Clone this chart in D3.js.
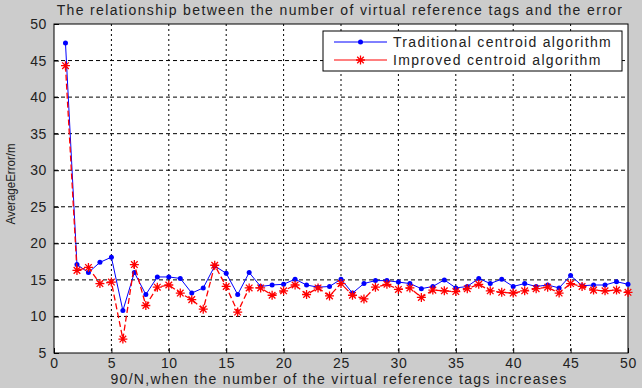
<!DOCTYPE html>
<html lang="en">
<head>
    <meta charset="UTF-8">
    <title>Virtual reference tags vs error</title>
    <script src="https://d3js.org/d3.v7.min.js"></script>
    <style>
        body { margin: 0; background: #cccccc; }
        text { font-family: Arial, "Liberation Sans", sans-serif; fill: #222; }
    </style>
</head>
<body>
    <svg width="642" height="388"></svg>
    <script type="text/javascript">
        // x values: 90/N
        var xs = d3.range(1, 51);

        var traditional = [47.4, 17.1, 16.0, 17.4, 18.1, 10.8, 16.0, 13.0, 15.4, 15.4,
                           15.2, 13.2, 13.9, 16.9, 15.9, 13.0, 16.0, 14.1, 14.3, 14.4,
                           15.1, 14.3, 14.0, 14.1, 15.1, 13.2, 14.5, 14.9, 14.9, 14.7,
                           14.5, 13.8, 14.1, 15.0, 13.9, 14.1, 15.2, 14.5, 15.1, 14.1,
                           14.5, 14.1, 14.3, 13.9, 15.6, 14.2, 14.3, 14.3, 14.75, 14.4];

        var improved = [44.3, 16.3, 16.7, 14.5, 14.7, 6.9, 17.1, 11.5, 14.0, 14.3,
                        13.2, 12.3, 11.0, 17.0, 14.1, 10.6, 13.9, 13.9, 12.9, 13.5,
                        14.3, 13.0, 13.9, 12.8, 14.5, 12.9, 12.4, 14.0, 14.4, 13.7,
                        13.9, 12.6, 13.6, 13.5, 13.4, 13.8, 14.4, 13.5, 13.3, 13.2,
                        13.5, 13.8, 14.0, 13.2, 14.5, 14.1, 13.6, 13.5, 13.6, 13.3];

        var xTicks = d3.range(0, 51, 5);
        var yTicks = d3.range(5, 51, 5);

        var margin = {top: 24, right: 14, bottom: 35, left: 54},
            width = 642 - margin.left - margin.right,
            height = 388 - margin.top - margin.bottom;

        var svg = d3.select("svg");

        var g = svg.append("g")
            .attr("transform", "translate(" + margin.left + "," + margin.top + ")");

        var x = d3.scaleLinear().domain([0, 50]).range([0, width]);
        var y = d3.scaleLinear().domain([5, 50]).range([height, 0]);

        // plot area
        g.append("rect")
            .attr("width", width)
            .attr("height", height)
            .attr("fill", "#fff");

        // grid
        g.selectAll(".vgrid")
            .data(xTicks.slice(1, -1))
            .enter().append("line")
            .attr("x1", d => x(d)).attr("x2", d => x(d))
            .attr("y1", 0).attr("y2", height)
            .attr("stroke", "#000")
            .attr("stroke-width", 1)
            .attr("stroke-dasharray", "2,3");

        g.selectAll(".hgrid")
            .data(yTicks.slice(1, -1))
            .enter().append("line")
            .attr("x1", 0).attr("x2", width)
            .attr("y1", d => y(d)).attr("y2", d => y(d))
            .attr("stroke", "#000")
            .attr("stroke-width", 1)
            .attr("stroke-dasharray", "4,3");

        // axes (inward ticks)
        var xAxis = g.append("g")
            .attr("transform", "translate(0," + height + ")")
            .call(d3.axisBottom(x).tickValues(xTicks).tickSizeInner(-5).tickSizeOuter(0).tickPadding(5));
        var yAxis = g.append("g")
            .call(d3.axisLeft(y).tickValues(yTicks).tickSizeInner(-5).tickSizeOuter(0).tickPadding(7));

        [xAxis, yAxis].forEach(function(a) {
            a.select(".domain").remove();
            a.selectAll("text").attr("font-size", "14px").attr("fill", "#222")
                .attr("letter-spacing", "0.6px")
                .attr("font-family", "Arial, 'Liberation Sans', sans-serif");
        });

        // box
        g.append("rect")
            .attr("width", width)
            .attr("height", height)
            .attr("fill", "none")
            .attr("stroke", "#000");

        // lines
        var line = d3.line()
            .x(function(d, i) { return x(xs[i]); })
            .y(function(d) { return y(d); });

        g.append("path")
            .datum(traditional)
            .attr("fill", "none")
            .attr("stroke", "#0000ff")
            .attr("stroke-width", 1)
            .attr("d", line);

        g.selectAll(".dot")
            .data(traditional)
            .enter().append("circle")
            .attr("cx", (d, i) => x(xs[i]))
            .attr("cy", d => y(d))
            .attr("r", 2.5)
            .attr("fill", "#0000ff");

        g.append("path")
            .datum(improved)
            .attr("fill", "none")
            .attr("stroke", "#ff0000")
            .attr("stroke-width", 1.3)
            .attr("stroke-dasharray", "6,3")
            .attr("d", line);

        var star = "M-4.5,0H4.5M0,-4.5V4.5M-3.3,-3.3L3.3,3.3M-3.3,3.3L3.3,-3.3";

        g.selectAll(".star")
            .data(improved)
            .enter().append("path")
            .attr("transform", (d, i) => "translate(" + x(xs[i]) + "," + y(d) + ")")
            .attr("d", star)
            .attr("stroke", "#ff0000")
            .attr("stroke-width", 1.3)
            .attr("fill", "none");

        // title
        svg.append("text")
            .attr("x", 340)
            .attr("y", 15)
            .attr("text-anchor", "middle")
            .attr("font-size", "14px")
            .attr("letter-spacing", "1.35px")
            .text("The relationship between the number of virtual reference tags and the error");

        // x label
        svg.append("text")
            .attr("x", 339)
            .attr("y", 384)
            .attr("text-anchor", "middle")
            .attr("font-size", "14px")
            .attr("letter-spacing", "1.3px")
            .text("90/N,when the number of the virtual reference tags increases");

        // y label
        svg.append("text")
            .attr("transform", "translate(15,184) rotate(-90)")
            .attr("text-anchor", "middle")
            .attr("font-size", "12.5px")
            .attr("textLength", 81)
            .attr("lengthAdjust", "spacingAndGlyphs")
            .text("AverageError/m");

        // legend
        var legend = svg.append("g").attr("transform", "translate(323,31)");
        legend.append("rect")
            .attr("width", 299)
            .attr("height", 40)
            .attr("fill", "#fff")
            .attr("stroke", "#000");

        var items = [
            {name: "Traditional centroid algorithm", color: "#0000ff", marker: "dot"},
            {name: "Improved centroid algorithm", color: "#ff0000", marker: "star"}
        ];

        items.forEach(function(it, i) {
            var ly = 11 + i * 18;
            legend.append("line")
                .attr("x1", 11).attr("x2", 64)
                .attr("y1", ly).attr("y2", ly)
                .attr("stroke", it.color);
            if (it.marker === "dot") {
                legend.append("circle").attr("cx", 37.5).attr("cy", ly).attr("r", 2.5).attr("fill", it.color);
            } else {
                legend.append("path").attr("transform", "translate(37.5," + ly + ")")
                    .attr("d", star).attr("stroke", it.color).attr("stroke-width", 1.3);
            }
            legend.append("text")
                .attr("x", 70)
                .attr("y", ly + 5)
                .attr("font-size", "14px")
                .attr("letter-spacing", "1.3px")
                .text(it.name);
        });
    </script>
</body>
</html>
